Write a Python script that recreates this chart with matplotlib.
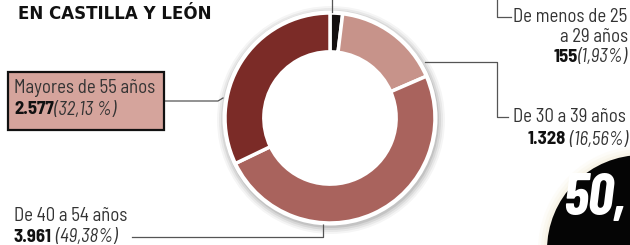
import matplotlib.pyplot as plt
from matplotlib.patches import Circle, Rectangle
from matplotlib import font_manager as fm

# Data
labels = ['De menos de 25\na 29 años', 'De 30 a 39 años', 'De 40 a 54 años', 'Mayores de 55 años']
counts = ['155', '1.328', '3.961', '2.577']
shares = [1.93, 16.56, 49.38, 32.13]
share_txt = ['(1,93%)', ' (16,56%)', ' (49,38%)', '(32,13 %)']
colors = ['#141010', '#c7938a', '#a9635d', '#7b2b27']

# narrow font, fall back to condensed DejaVu
have = {f.name for f in fm.fontManager.ttflist}
if 'Barlow Semi Condensed' in have:
    narrow = dict(family=['Barlow Semi Condensed', 'DejaVu Sans'])
    badge = dict(family=['Barlow Condensed', 'DejaVu Sans'])
    fs = 13.5
else:
    narrow = dict(family='DejaVu Sans', fontstretch='condensed')
    badge = narrow
    fs = 11

W, H = 630, 245
fig = plt.figure(figsize=(6.3, 2.45), dpi=100)
ax = fig.add_axes([0, 0, 1, 1])

line_c = '#555555'
txt_c = '#333333'

def Y(y):
    return H - y

# donut with soft shadow
cx, cy, R = 330, Y(118), 105
for i, a in enumerate([0.04, 0.05, 0.07, 0.09]):
    ax.add_patch(Circle((cx + 1, cy - 2), R + 9 - 2 * i, color='#000000', alpha=a, lw=0, zorder=1))
ax.add_patch(Circle((cx, cy), R + 2.5, color='white', lw=0, zorder=2))
wedges, _ = ax.pie(shares, colors=colors, startangle=90, counterclock=False,
                   center=(cx, cy), radius=R, frame=True,
                   wedgeprops=dict(width=R * 0.37, edgecolor='white', linewidth=2.5))
for w in wedges:
    w.set_zorder(3)
ax.set_xlim(0, W)
ax.set_ylim(0, H)
ax.set_aspect('auto')
ax.axis('off')

# title (line above it is cropped in the source)
ax.text(18, Y(14), 'EN CASTILLA Y LEÓN', fontsize=12, fontweight='bold',
        color='#111111', va='center', ha='left', family='DejaVu Sans')

# leader lines
ax.plot([332, 332], [Y(0), Y(12)], color=line_c, lw=0.9, zorder=4)
ax.plot([497, 497, 511], [Y(0), Y(17), Y(17)], color=line_c, lw=0.9)
ax.plot([425, 497, 497, 508], [Y(62), Y(62), Y(117), Y(117)], color=line_c, lw=0.9)
ax.plot([164, 218, 223], [Y(101), Y(101), Y(98)], color=line_c, lw=0.9)
ax.plot([132, 323, 323], [Y(237), Y(237), Y(224)], color=line_c, lw=0.9)

# label: menos de 25
ax.text(513, Y(17), 'De menos de 25', fontsize=fs, color=txt_c,
        ha='left', va='center', **narrow)
ax.text(628, Y(37), 'a 29 años', fontsize=fs, color=txt_c,
        ha='right', va='center', **narrow)
p = ax.text(628, Y(57), share_txt[0], fontsize=fs, color=txt_c,
            ha='right', va='center', style='italic', **narrow)
ax.annotate(counts[0], xy=(0, 0.5), xycoords=p, ha='right', va='center',
            fontsize=fs, fontweight='bold', color='#111111', **narrow)

# label: 30 a 39
ax.text(513, Y(117), labels[1], fontsize=fs, color=txt_c,
        ha='left', va='center', **narrow)
p = ax.text(628, Y(140), share_txt[1], fontsize=fs, color=txt_c,
            ha='right', va='center', style='italic', **narrow)
ax.annotate(counts[1], xy=(0, 0.5), xycoords=p, ha='right', va='center',
            fontsize=fs, fontweight='bold', color='#111111', **narrow)

# label: mayores de 55 (boxed)
ax.add_patch(Rectangle((8, Y(130)), 156, 58, facecolor='#d5a49c',
                       edgecolor='#111111', lw=1.6, zorder=2))
ax.text(14, Y(88), labels[3], fontsize=fs, color=txt_c,
        ha='left', va='center', zorder=3, **narrow)
b = ax.text(14, Y(110), counts[3], fontsize=fs, fontweight='bold',
            color='#111111', ha='left', va='center', zorder=3, **narrow)
ax.annotate(share_txt[3], xy=(1, 0.5), xycoords=b, ha='left', va='center',
            fontsize=fs, style='italic', color=txt_c, zorder=3, **narrow)

# label: 40 a 54
ax.text(14, Y(216), labels[2], fontsize=fs, color=txt_c,
        ha='left', va='center', **narrow)
b = ax.text(14, Y(237), counts[2], fontsize=fs, fontweight='bold',
            color='#111111', ha='left', va='center', **narrow)
ax.annotate(share_txt[2], xy=(1, 0.5), xycoords=b, ha='left', va='center',
            fontsize=fs, style='italic', color=txt_c, **narrow)

# black badge bottom right
for i, a in enumerate([0.10, 0.15, 0.2]):
    ax.add_patch(Circle((642, Y(250)), 104 - 3 * i, color='#efe2c4', alpha=a, lw=0))
ax.add_patch(Circle((642, Y(250)), 95, color='#050505', lw=0, zorder=5))
ax.text(563, Y(199), '50,', fontsize=42, fontweight='bold', style='italic',
        color='white', ha='left', va='center', zorder=6, **badge)

fig.savefig('out.png', dpi=100)
